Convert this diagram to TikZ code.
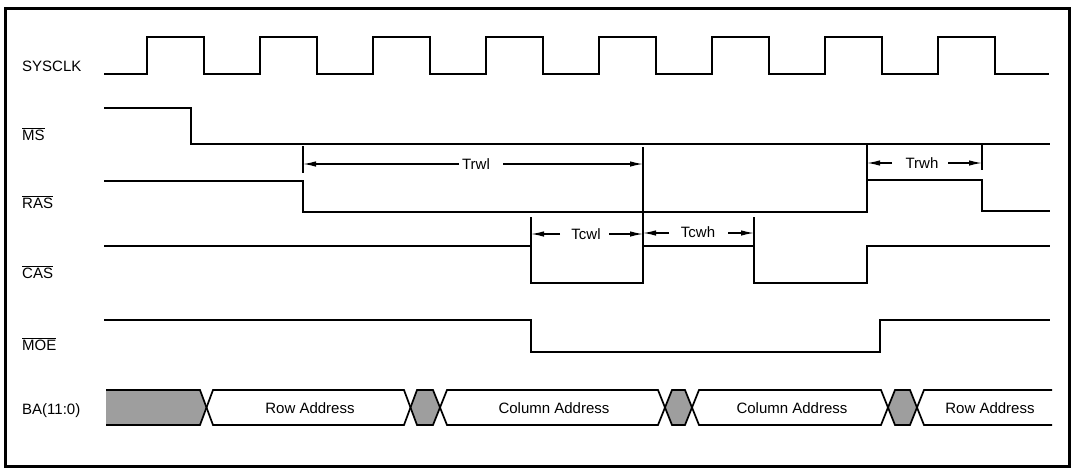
\documentclass[tikz,border=0pt]{standalone}
\usepackage{fontspec}
\setmainfont{Liberation Sans}
\usetikzlibrary{arrows.meta}
\newcommand\sigbar[1]{$\overline{\mbox{#1}}$}
\begin{document}
\begin{tikzpicture}[x=1pt,y=-1pt,
  sig/.style={line width=1.7pt, line join=miter},
  lbl/.style={anchor=base west, inner sep=0pt, font=\fontsize{15}{18}\selectfont},
  dimtxt/.style={inner sep=0pt, font=\fontsize{15}{18}\selectfont},
  bustxt/.style={anchor=base, inner sep=0pt, font=\fontsize{15}{18}\selectfont},
  tickline/.style={line width=1.3pt},
  dimarr/.style={line width=1.3pt, -{Latex[length=13pt,width=5.5pt]}},
  busline/.style={line width=1.7pt, line join=miter},
  busfill/.style={fill=black!38}]
\useasboundingbox (0,0) rectangle (1074,469);
% frame
\draw[line width=3pt] (5,8) rectangle (1069,466);

% signal labels
\node[lbl] (lclk) at (22,71) {SYSCLK};
\node[lbl] (lms)  at (22,140) {\sigbar{MS}};
\node[lbl] (lras) at (22,208) {\sigbar{RAS}};
\node[lbl] (lcas) at (22,278) {\sigbar{CAS}};
\node[lbl] (lmoe) at (22,350) {\sigbar{MOE}};
\node[lbl] (lba)  at (22,414) {BA(11:0)};

% SYSCLK
\draw[sig] (104,74) -- (147,74) -- (147,37) -- (204,37) -- (204,74)
  -- (260,74) -- (260,37) -- (317,37) -- (317,74)
  -- (373,74) -- (373,37) -- (430,37) -- (430,74)
  -- (486,74) -- (486,37) -- (543,37) -- (543,74)
  -- (599,74) -- (599,37) -- (656,37) -- (656,74)
  -- (712,74) -- (712,37) -- (769,37) -- (769,74)
  -- (825,74) -- (825,37) -- (882,37) -- (882,74)
  -- (938,74) -- (938,37) -- (995,37) -- (995,74) -- (1049,74);
% MS
\draw[sig] (104,108) -- (191,108) -- (191,144) -- (1050,144);
% RAS
\draw[sig] (104,181) -- (303,181) -- (303,212) -- (867,212) -- (867,180)
  -- (982,180) -- (982,211) -- (1050,211);
% CAS
\draw[sig] (104,246) -- (531,246) -- (531,283) -- (643,283) -- (643,246)
  -- (754,246) -- (754,283) -- (867,283) -- (867,246) -- (1050,246);
% MOE
\draw[sig] (104,320) -- (531,320) -- (531,352) -- (880,352) -- (880,320) -- (1050,320);

% BA bus
\fill[busfill] (106,390) -- (200,390) -- (206.5,407.5) -- (200,425) -- (106,425) -- cycle;
\draw[busline] (106,390) -- (200,390) -- (206.5,407.5) -- (200,425) -- (106,425);
\draw[busline] (206.5,407.5) -- (213,390) -- (404,390) -- (410.5,407.5) -- (404,425) -- (213,425) -- cycle;
\filldraw[busline, busfill] (410.5,407.5) -- (417,390) -- (433,390) -- (440,407.5) -- (433,425) -- (417,425) -- cycle;
\draw[busline] (440,407.5) -- (447,390) -- (658,390) -- (665,407.5) -- (658,425) -- (447,425) -- cycle;
\filldraw[busline, busfill] (665,407.5) -- (672,390) -- (685,390) -- (692,407.5) -- (685,425) -- (672,425) -- cycle;
\draw[busline] (692,407.5) -- (699,390) -- (881,390) -- (888,407.5) -- (881,425) -- (699,425) -- cycle;
\filldraw[busline, busfill] (888,407.5) -- (895,390) -- (910,390) -- (917,407.5) -- (910,425) -- (895,425) -- cycle;
\draw[busline] (1052,390) -- (924,390) -- (917,407.5) -- (924,425) -- (1052,425);

\node[bustxt] (b1) at (310,413) {Row Address};
\node[bustxt] (b2) at (554,413) {Column Address};
\node[bustxt] (b3) at (792,413) {Column Address};
\node[bustxt] (b4) at (990,413) {Row Address};

% timing ticks
\draw[tickline] (303,146) -- (303,173);
\draw[tickline] (643,147) -- (643,246);
\draw[tickline] (531,217) -- (531,246);
\draw[tickline] (754,217) -- (754,246);
\draw[tickline] (867,144) -- (867,180);
\draw[tickline] (982,144) -- (982,170);

% Trwl
\node[dimtxt] (trwl) at (476,164) {Trwl};
\draw[dimarr] (459,164) -- (303,164);
\draw[dimarr] (503,164) -- (643,164);
% Tcwl
\node[dimtxt] (tcwl) at (586,234) {Tcwl};
\draw[dimarr] (560,234) -- (531,234);
\draw[dimarr] (609,234) -- (643,234);
% Tcwh
\node[dimtxt] (tcwh) at (698,232) {Tcwh};
\draw[dimarr] (669,233) -- (643,233);
\draw[dimarr] (728,233) -- (754,233);
% Trwh
\node[dimtxt] (trwh) at (922,163) {Trwh};
\draw[dimarr] (892,163) -- (867,163);
\draw[dimarr] (948,163) -- (982,163);
\end{tikzpicture}
\end{document}
